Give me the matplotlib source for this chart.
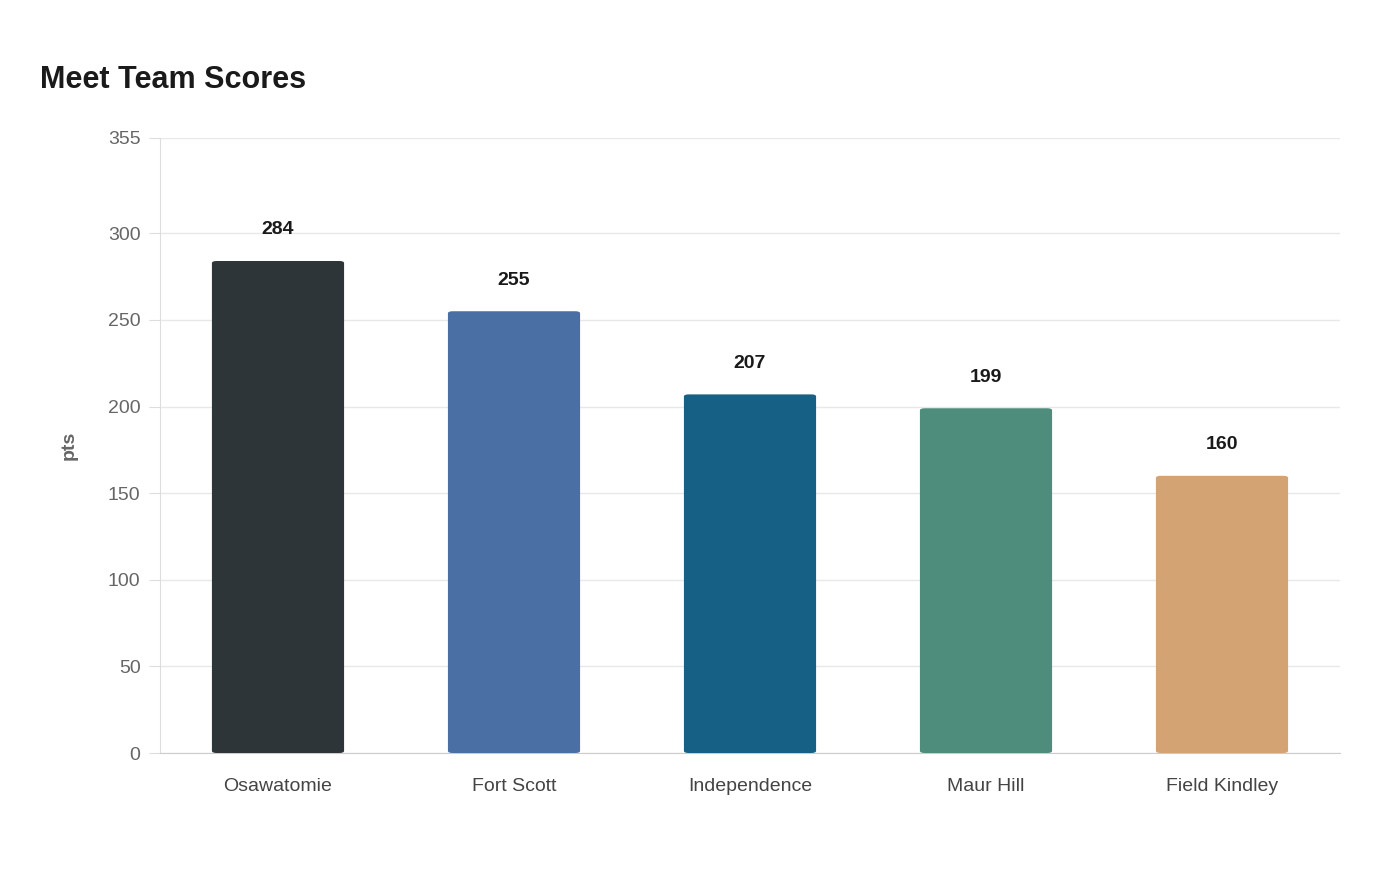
import matplotlib.pyplot as plt
from matplotlib.patches import FancyBboxPatch

plt.rcParams['font.family'] = ['Liberation Sans', 'DejaVu Sans']

teams = ['Osawatomie', 'Fort Scott', 'Independence', 'Maur Hill', 'Field Kindley']
scores = [284, 255, 207, 199, 160]
colors = ['#2e3538', '#4a6fa5', '#176085', '#4e8d7c', '#d4a373']
yticks = [0, 50, 100, 150, 200, 250, 300, 355]

fig = plt.figure(figsize=(14, 8.8), dpi=100)
ax = fig.add_axes([160 / 1400, 1 - 753 / 880, 1180 / 1400, 615 / 880])

width = 0.56
for i, (v, c) in enumerate(zip(scores, colors)):
    ax.add_patch(FancyBboxPatch((i - width / 2, 0), width, v,
                                boxstyle="round,pad=0,rounding_size=0.02",
                                mutation_aspect=60, facecolor=c, edgecolor='none', zorder=3))
    ax.text(i, v + 13, str(v), ha='center', va='bottom', fontsize=14,
            fontweight='bold', color='#1a1a1a')

ax.set_xlim(-0.5, len(teams) - 0.5)
ax.set_ylim(0, 355)
ax.set_xticks(range(len(teams)))
ax.set_xticklabels(teams, fontsize=14, color='#444444')
ax.set_yticks(yticks)
ax.set_yticklabels([str(t) for t in yticks], fontsize=14, color='#666666')
ax.tick_params(axis='x', length=0, pad=18)
ax.tick_params(axis='y', length=8, color='#dddddd', pad=6)
ax.grid(axis='y', color='#e8e8e8', linewidth=1, zorder=0)
for s in ['top', 'right']:
    ax.spines[s].set_visible(False)
ax.spines['left'].set_color('#dddddd')
ax.spines['bottom'].set_color('#cccccc')
ax.set_ylabel('pts', fontsize=14, fontweight='bold', color='#666666', labelpad=22)

fig.text(40 / 1400, 1 - 80 / 880, 'Meet Team Scores', fontsize=22, fontweight='bold',
         color='#1a1a1a', va='center', ha='left')

fig.savefig('out.png', dpi=100)
